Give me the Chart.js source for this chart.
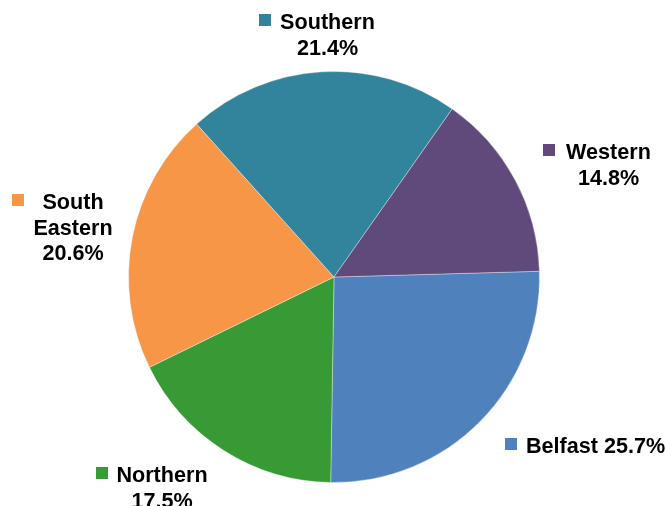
<!DOCTYPE html>
<html>
<head>
<meta charset="utf-8">
<script src="https://cdn.jsdelivr.net/npm/chart.js@4"></script>
<style>
  html, body { margin: 0; padding: 0; background: #fff; }
  #wrap { width: 667px; height: 506px; position: relative; }
</style>
</head>
<body>
<div id="wrap"><canvas id="pie"></canvas></div>
<script>
// share of total by area
const areas = ['Belfast', 'Northern', 'South Eastern', 'Southern', 'Western'];
const shares = [25.7, 17.5, 20.6, 21.4, 14.8];
const sliceColors = ['#4F81BD', '#379A35', '#F79646', '#31849B', '#604A7B'];

// where each label block sits: text centre x, first baseline y, legend square x
const labelSpots = [
    { cx: 595.5, y: 453, sq: 505, oneLine: true },
    { cx: 162, y: 482, sq: 96 },
    { cx: 73, y: 209, sq: 12, split: true },
    { cx: 327.5, y: 29, sq: 259 },
    { cx: 608.5, y: 159, sq: 543 }
];

const sliceLabels = {
    id: 'sliceLabels',
    afterDraw(chart) {
        const ctx = chart.ctx;
        const ds = chart.data.datasets[0];
        ctx.save();
        ctx.font = 'bold 21.6px "Liberation Sans", Arial, sans-serif';
        ctx.fillStyle = '#000';
        ctx.textAlign = 'center';
        ctx.textBaseline = 'alphabetic';
        chart.data.labels.forEach((name, i) => {
            const s = labelSpots[i];
            const pct = ds.data[i].toFixed(1) + '%';
            let lines;
            if (s.oneLine) lines = [name + ' ' + pct];
            else if (s.split) lines = [...name.split(' '), pct];
            else lines = [name, pct];
            lines.forEach((t, k) => ctx.fillText(t, s.cx, s.y + k * 25.5));
            ctx.fillStyle = ds.backgroundColor[i];
            ctx.fillRect(s.sq, s.y - 15, 12, 12);
            ctx.fillStyle = '#000';
        });
        ctx.restore();
    }
};

new Chart(document.getElementById('pie'), {
    type: 'pie',
    data: {
        labels: areas,
        datasets: [{
            data: shares,
            backgroundColor: sliceColors,
            borderColor: 'rgba(255,255,255,0.35)',
            borderWidth: 1
        }]
    },
    options: {
        responsive: true,
        maintainAspectRatio: false,
        animation: false,
        rotation: 88.4,
        layout: { padding: { left: 128, right: 127, top: 71, bottom: 23 } },
        plugins: {
            legend: { display: false },
            tooltip: { enabled: false }
        }
    },
    plugins: [sliceLabels]
});
</script>
</body>
</html>
